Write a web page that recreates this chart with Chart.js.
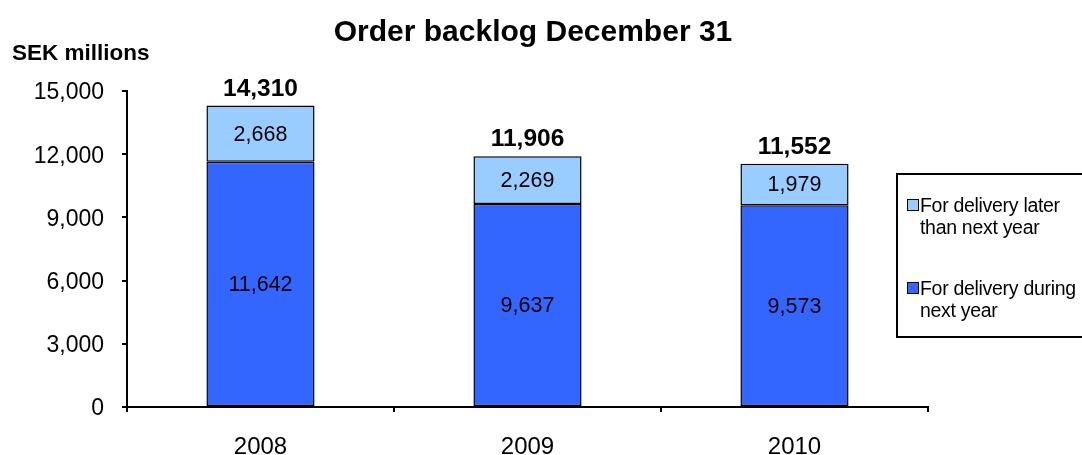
<!DOCTYPE html>
<html>
<head>
<meta charset="utf-8">
<script src="https://cdn.jsdelivr.net/npm/chart.js@4/dist/chart.umd.min.js"></script>
<style>
  body { margin: 0; background: #fff; }
  #wrap { position: relative; width: 1082px; height: 455px; overflow: hidden; }
  #legend {
    position: absolute; left: 896px; top: 173px; width: 200px; height: 165px;
    border: 2px solid #000; box-sizing: border-box;
    font-family: Arial, "Liberation Sans", sans-serif; font-size: 19.5px; color: #000;
  }
  .item { position: absolute; left: 22px; line-height: 22px; letter-spacing: -0.3px; white-space: nowrap; }
  .box { position: absolute; left: -13px; top: 5px; width: 10px; height: 10px; border: 1.5px solid #000; }
</style>
</head>
<body>
<div id="wrap">
  <canvas id="chart" width="1082" height="455"></canvas>
  <div id="legend">
    <div class="item" style="top: 19px;"><span class="box" style="background:#99CCFF"></span>For delivery later<br>than next year</div>
    <div class="item" style="top: 102px;"><span class="box" style="background:#3366FF"></span>For delivery during<br>next year</div>
  </div>
</div>
<script>
// Valores (SEK milhões)
const years = ['2008', '2009', '2010'];
const duringNextYear = [11642, 9637, 9573];
const laterThanNextYear = [2668, 2269, 1979];
const totals = [14310, 11906, 11552];

const fontFamily = 'Arial, "Liberation Sans", sans-serif';
const fmt = v => v.toLocaleString('en-US');

// Desenha título, unidade e rótulos das barras
const labelsPlugin = {
  id: 'labelsPlugin',
  afterDatasetsDraw(chart) {
    const ctx = chart.ctx;
    ctx.save();
    ctx.fillStyle = '#000';

    ctx.font = 'bold 30px ' + fontFamily;
    ctx.textAlign = 'center';
    ctx.textBaseline = 'alphabetic';
    ctx.fillText('Order backlog December 31', 533, 41);

    ctx.font = 'bold 22.5px ' + fontFamily;
    ctx.textAlign = 'left';
    ctx.fillText('SEK millions', 12, 60);

    ctx.font = '21.5px ' + fontFamily;
    ctx.textAlign = 'center';
    ctx.textBaseline = 'middle';
    chart.data.datasets.forEach((ds, i) => {
      chart.getDatasetMeta(i).data.forEach((bar, j) => {
        ctx.fillText(fmt(ds.data[j]), bar.x, (bar.y + bar.base) / 2 + 1);
      });
    });

    ctx.font = 'bold 24.5px ' + fontFamily;
    ctx.textBaseline = 'alphabetic';
    const topMeta = chart.getDatasetMeta(chart.data.datasets.length - 1);
    topMeta.data.forEach((bar, j) => {
      ctx.fillText(fmt(totals[j]), bar.x, bar.y - 10);
    });
    ctx.restore();
  }
};

new Chart(document.getElementById('chart'), {
  type: 'bar',
  data: {
    labels: years,
    datasets: [
      {
        label: 'For delivery during next year',
        data: duringNextYear,
        backgroundColor: '#3366FF',
        borderColor: '#000',
        borderWidth: 1.5,
        borderSkipped: false
      },
      {
        label: 'For delivery later than next year',
        data: laterThanNextYear,
        backgroundColor: '#99CCFF',
        borderColor: '#000',
        borderWidth: 1.5,
        borderSkipped: false
      }
    ]
  },
  options: {
    responsive: false,
    animation: false,
    events: [],
    layout: { padding: { top: 91, right: 154, left: 0, bottom: 0 } },
    categoryPercentage: 1,
    barPercentage: 0.405,
    plugins: {
      legend: { display: false },
      title: { display: false },
      tooltip: { enabled: false }
    },
    scales: {
      x: {
        stacked: true,
        afterFit: s => { s.height = 48; },
        border: { display: true, color: '#000', width: 2 },
        grid: { display: true, drawOnChartArea: false, drawTicks: true, tickLength: 5, color: '#000', lineWidth: 2, offset: true },
        ticks: { color: '#000', font: { family: fontFamily, size: 24 }, padding: 21 }
      },
      y: {
        stacked: true,
        min: 0,
        max: 15000,
        afterFit: s => { s.width = 127; },
        border: { display: true, color: '#000', width: 2 },
        grid: { display: true, drawOnChartArea: false, drawTicks: true, tickLength: 5, color: '#000', lineWidth: 2 },
        ticks: {
          stepSize: 3000,
          color: '#000',
          font: { family: fontFamily, size: 23 },
          padding: 18,
          labelOffset: 2,
          callback: v => fmt(v)
        }
      }
    }
  },
  plugins: [labelsPlugin]
});
</script>
</body>
</html>
